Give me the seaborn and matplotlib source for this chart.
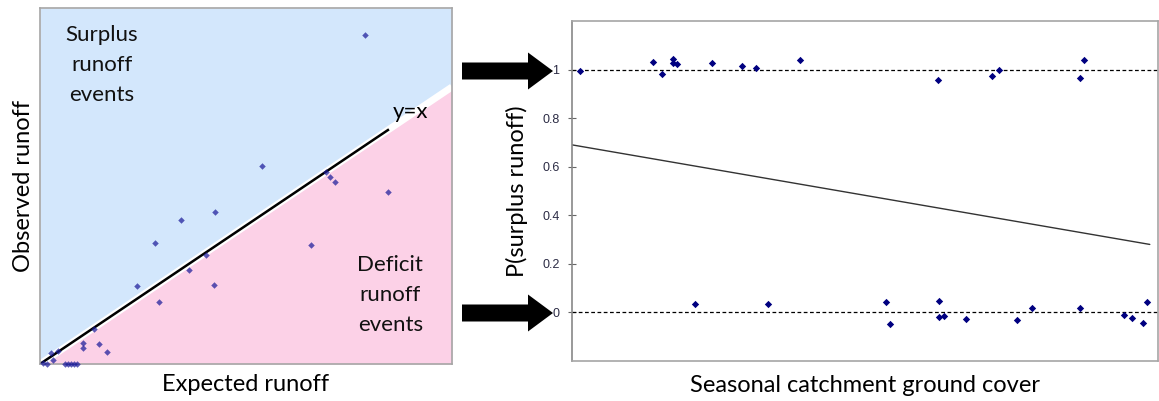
import matplotlib
matplotlib.use("Agg")
import matplotlib.pyplot as plt
from matplotlib.patches import FancyArrow
import seaborn as sns
import pandas as pd
import numpy as np

# ---------------- data ----------------
# Left panel: expected vs observed runoff (arbitrary units)
expected_runoff = [7.89, 5.40, 4.25, 3.42, 2.78, 2.35, 6.93, 4.03, 1.32, 0.26, 0.44, 0.08, 0.16,
                   7.04, 7.17, 8.45, 6.58, 3.62, 4.22, 2.89, 1.05, 1.05, 1.42, 1.63, 0.32,
                   0.61, 0.68, 0.75, 0.83, 0.90]
observed_runoff = [11.88, 7.15, 5.48, 5.19, 4.36, 2.83, 6.94, 3.94, 1.26, 0.41, 0.47, 0.05, 0.0,
                   6.76, 6.57, 6.21, 4.29, 3.39, 2.86, 2.25, 0.75, 0.57, 0.72, 0.44, 0.14,
                   0.0, 0.0, 0.0, 0.0, 0.0]

# Right panel: ground cover vs jittered surplus indicator
cover_surplus = [1.3, 13.8, 15.4, 17.2, 17.2, 17.9, 23.9, 29.0, 31.4, 38.9, 62.5, 71.7, 72.8, 86.7, 87.4]
p_surplus = [0.993, 1.033, 0.981, 1.044, 1.028, 1.025, 1.029, 1.014, 1.005, 1.041, 0.956, 0.972, 0.997, 0.964, 1.041]
cover_deficit = [21.0, 33.5, 53.6, 54.3, 62.6, 62.6, 63.4, 67.3, 75.9, 78.5, 86.7, 94.2, 95.6, 97.4, 98.2]
p_deficit = [0.033, 0.033, 0.041, -0.047, 0.049, -0.019, -0.015, -0.028, -0.032, 0.018, 0.018, -0.011, -0.023, -0.044, 0.041]
fit_cover = [0.0, 98.6]
fit_p = [0.69, 0.28]
yticks = [0, 0.2, 0.4, 0.6, 0.8, 1]
ytick_labels = ["0", "0.2", "0.4", "0.6", "0.8", "1"]

# ---------------- style ----------------
sns.set_theme(style="white")
plt.rcParams["font.family"] = ["Lato", "DejaVu Sans"]

fig = plt.figure(figsize=(11.59, 4.01), dpi=100)
W, H = 1159, 401

def ax_rect(x0, y0, x1, y1):
    return [x0 / W, 1 - y1 / H, (x1 - x0) / W, (y1 - y0) / H]

# ---------------- left panel ----------------
ax1 = fig.add_axes(ax_rect(40, 8, 452, 364))
XMAX, YMAX = 10.0, 12.85
ax1.set_xlim(0, XMAX)
ax1.set_ylim(0, YMAX)
xx = np.array([0, XMAX])
ax1.fill_between(xx, xx, YMAX, color="#d3e7fc", lw=0, zorder=0)
ax1.fill_between(xx, 0, xx, color="#fcd1e7", lw=0, zorder=0)
ax1.plot(xx, xx, color="white", lw=5, zorder=1, solid_capstyle="butt")
ax1.plot([0, 8.47], [0, 8.47], color="black", lw=1.8, zorder=2, solid_capstyle="butt")

df_left = pd.DataFrame({"Expected runoff": expected_runoff, "Observed runoff": observed_runoff})
sns.scatterplot(data=df_left, x="Expected runoff", y="Observed runoff", ax=ax1,
                marker="D", s=11, color="#1c1c9a", alpha=0.72, linewidth=0,
                zorder=3, clip_on=False, legend=False)

ax1.set_xticks([])
ax1.set_yticks([])
for sp in ax1.spines.values():
    sp.set_color("#a6a6a6")
    sp.set_linewidth(1.2)
ax1.set_xlabel("Expected runoff", fontsize=17, labelpad=7, color="black")
ax1.set_ylabel("Observed runoff", fontsize=17, labelpad=4, color="black")

ax1.text(1.5, 10.8, "Surplus\nrunoff\nevents", ha="center", va="center",
         fontsize=16, linespacing=1.62, color="#111111")
ax1.text(8.5, 2.49, "Deficit\nrunoff\nevents", ha="center", va="center",
         fontsize=16, linespacing=1.62, color="#111111")
ax1.text(8.57, 9.1, "y=x", ha="left", va="center", fontsize=16, color="black")

# ---------------- right panel ----------------
ax2 = fig.add_axes(ax_rect(572, 21, 1158, 361))
ax2.set_xlim(0, 100)
ax2.set_ylim(-0.2, 1.2)
ax2.axhline(1, color="black", lw=0.9, ls=(0, (3, 2)), zorder=1)
ax2.axhline(0, color="black", lw=0.9, ls=(0, (3, 2)), zorder=1)

df_fit = pd.DataFrame({"cover": fit_cover, "p": fit_p})
sns.lineplot(data=df_fit, x="cover", y="p", ax=ax2, color="#333333", lw=1.0, zorder=2)

df_pts = pd.DataFrame({"cover": cover_surplus + cover_deficit, "p": p_surplus + p_deficit})
sns.scatterplot(data=df_pts, x="cover", y="p", ax=ax2, marker="D", s=14,
                color="#000080", linewidth=0, zorder=3, legend=False)

ax2.set_xticks([])
ax2.set_yticks(yticks)
ax2.set_yticklabels(ytick_labels, fontsize=9, color="#2b2b44",
                    family=["Liberation Sans", "DejaVu Sans"])
ax2.tick_params(axis="y", left=True, direction="inout", length=6, width=0.8,
                color="#666666", pad=6)
for sp in ax2.spines.values():
    sp.set_color("#a6a6a6")
    sp.set_linewidth(1.2)
ax2.spines["left"].set_color("#888888")
ax2.set_xlabel("Seasonal catchment ground cover", fontsize=17, labelpad=10, color="black")
ax2.set_ylabel("P(surplus runoff)", fontsize=17, labelpad=10, color="black")

# ---------------- arrows ----------------
for yc in (71, 313):
    fig.add_artist(FancyArrow(462 / W, 1 - yc / H, 91 / W, 0,
                              width=17 / H, head_width=37 / H, head_length=25 / W,
                              length_includes_head=True, color="black",
                              transform=fig.transFigure, lw=0))

fig.savefig("out.png", dpi=100)
